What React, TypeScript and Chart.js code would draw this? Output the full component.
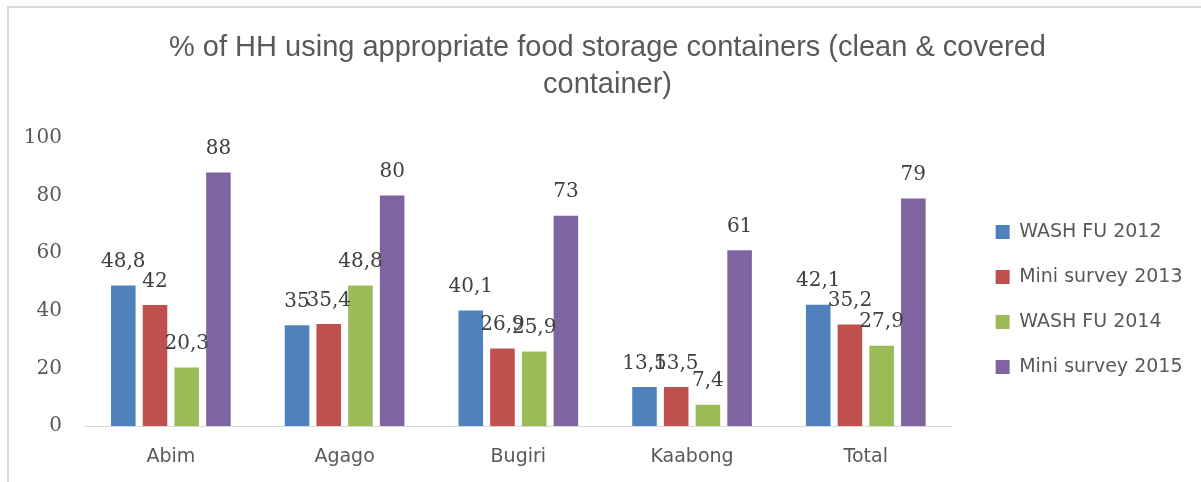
import React, { useEffect, useRef } from 'react';
import { Chart, registerables } from 'chart.js';

Chart.register(...registerables);

const categories = ['Abim', 'Agago', 'Bugiri', 'Kaabong', 'Total'];
const seriesNames = ['WASH FU 2012', 'Mini survey 2013', 'WASH FU 2014', 'Mini survey 2015'];
const wash2012 = [48.8, 35, 40.1, 13.5, 42.1];
const mini2013 = [42, 35.4, 26.9, 13.5, 35.2];
const wash2014 = [20.3, 48.8, 25.9, 7.4, 27.9];
const mini2015 = [88, 80, 73, 61, 79];
const yTicks = [0, 20, 40, 60, 80, 100];
const titleLines = ['% of HH using appropriate food storage containers (clean & covered', 'container)'];
const seriesColors = ['#4f81bd', '#c0504d', '#9bbb59', '#8064a2'];

const dataLabels = {
  id: 'dataLabels',
  afterDatasetsDraw(chart: any) {
    const ctx = chart.ctx;
    ctx.save();
    ctx.font = '20px "DejaVu Serif"';
    ctx.fillStyle = '#404040';
    ctx.textAlign = 'center';
    ctx.textBaseline = 'alphabetic';
    chart.data.datasets.forEach((ds: any, i: number) => {
      const meta = chart.getDatasetMeta(i);
      meta.data.forEach((bar: any, j: number) => {
        const v = ds.data[j];
        ctx.fillText(String(v).replace('.', ','), bar.x, bar.y - 18.5);
      });
    });
    ctx.restore();
  },
};

// nudges the legend and title boxes to where the original chart frame puts them
const boxOffset = {
  id: 'boxOffset',
  afterLayout(chart: any) {
    const lg = chart.legend;
    if (lg) {
      lg.left += 17;
      lg.right += 17;
      lg.top += 65;
      lg.bottom += 65;
    }
    const tb = chart.titleBlock;
    if (tb) {
      tb.left += 9.75;
      tb.right += 9.75;
    }
  },
};

export default function App() {
  const ref = useRef<HTMLCanvasElement | null>(null);
  useEffect(() => {
    if (!ref.current) return;
    const series = [wash2012, mini2013, wash2014, mini2015];
    const chart = new Chart(ref.current, {
      type: 'bar',
      data: {
        labels: categories,
        datasets: series.map((d, i) => ({
          label: seriesNames[i],
          data: d,
          backgroundColor: seriesColors[i],
          borderWidth: 0,
          categoryPercentage: 0.73,
          barPercentage: 0.775,
        })),
      },
      options: {
        responsive: false,
        animation: false,
        events: [],
        layout: { padding: { left: 20, right: 25.5, top: 0, bottom: 13.2 } },
        plugins: {
          title: {
            display: true,
            text: titleLines,
            color: '#595959',
            font: { family: 'Liberation Sans', size: 29, weight: 'normal', lineHeight: 37 / 29 },
            padding: { top: 29.5, bottom: 34.5 },
          },
          legend: {
            position: 'right',
            align: 'center',
            labels: {
              boxWidth: 14,
              boxHeight: 14,
              padding: 26,
              color: '#595959',
              font: { family: 'DejaVu Sans', size: 19 },
            },
          },
          tooltip: { enabled: false },
        },
        scales: {
          x: {
            grid: { display: false, drawTicks: false },
            border: { display: true, color: '#d9d9d9', width: 1 },
            afterFit: (s: any) => {
              s.height = 42.8;
            },
            ticks: {
              color: '#595959',
              font: { family: 'DejaVu Sans', size: 19 },
              padding: 20,
              maxRotation: 0,
            },
          },
          y: {
            min: 0,
            max: 100,
            grid: { display: false, drawTicks: false },
            border: { display: false },
            afterFit: (s: any) => {
              s.width = 64;
            },
            afterBuildTicks: (s: any) => {
              s.ticks = yTicks.map((v) => ({ value: v }));
            },
            ticks: {
              color: '#595959',
              font: { family: 'DejaVu Serif', size: 20 },
              padding: 22,
            },
          },
        },
      },
      plugins: [dataLabels, boxOffset],
    });
    return () => chart.destroy();
  }, []);

  return (
    <>
      <div
        style={{
          position: 'absolute',
          left: 7,
          top: 6,
          width: 1194,
          height: 476,
          borderTop: '2px solid #d9d9d9',
          borderLeft: '2px solid #d9d9d9',
          boxSizing: 'border-box',
        }}
      />
      <canvas
        ref={ref}
        width={1201}
        height={482}
        style={{ position: 'absolute', left: 0, top: 0, width: 1201, height: 482 }}
      />
    </>
  );
}
